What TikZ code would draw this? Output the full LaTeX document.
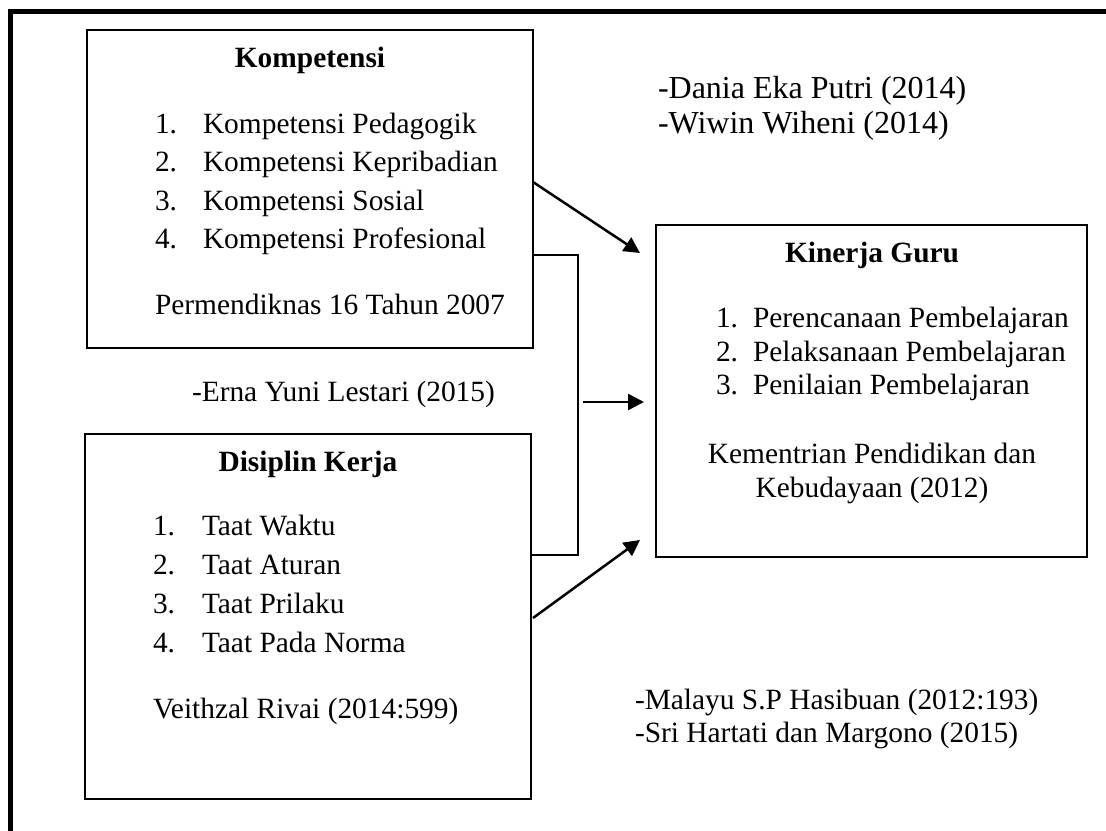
\documentclass[tikz,border=0pt]{standalone}
\usepackage{fontspec}
\setmainfont{Liberation Serif}
\usetikzlibrary{arrows.meta,calc}

\begin{document}
\begin{tikzpicture}[x=0.5pt,y=-0.5pt,inner sep=0pt,outer sep=0pt,
box/.style={draw,rectangle,line width=0.75pt},
txt/.style={anchor=base west,font=\fontsize{14.7}{17}\selectfont},
bigtxt/.style={anchor=base west,font=\fontsize{16}{19}\selectfont},
ttl/.style={anchor=base,font=\fontsize{14.7}{17}\selectfont\bfseries},
arr/.style={-{Triangle[length=8pt,width=8pt]},line width=1.25pt}]

\useasboundingbox (0,0) rectangle (1106,830);
\clip (0,0) rectangle (1106,830);
\draw[line width=2.5pt] (10,11) rectangle (1140,860);

\draw (310,189) node[box,minimum width=223pt,minimum height=159pt] (komp) {};
\draw (308,616.5) node[box,minimum width=223pt,minimum height=182.5pt] (disp) {};
\draw (871.5,391) node[box,minimum width=215.5pt,minimum height=166pt] (kin) {};

% Kompetensi
\draw (310,67) node[ttl] (kompT) {Kompetensi};
\draw (155,133) node[txt] (k1n) {1.};
\draw (203,133) node[txt] (k1) {Kompetensi Pedagogik};
\draw (155,171.5) node[txt] (k2n) {2.};
\draw (203,171.5) node[txt] (k2) {Kompetensi Kepribadian};
\draw (155,210) node[txt] (k3n) {3.};
\draw (203,210) node[txt] (k3) {Kompetensi Sosial};
\draw (155,248.5) node[txt] (k4n) {4.};
\draw (203,248.5) node[txt] (k4) {Kompetensi Profesional};
\draw (155,314) node[txt] (kSrc) {Permendiknas 16 Tahun 2007};

% Disiplin Kerja
\draw (308,471) node[ttl] (dispT) {Disiplin Kerja};
\draw (153,535) node[txt] (d1n) {1.};
\draw (202,535) node[txt] (d1) {Taat Waktu};
\draw (153,574) node[txt] (d2n) {2.};
\draw (202,574) node[txt] (d2) {Taat Aturan};
\draw (153,613) node[txt] (d3n) {3.};
\draw (202,613) node[txt] (d3) {Taat Prilaku};
\draw (153,652) node[txt] (d4n) {4.};
\draw (202,652) node[txt] (d4) {Taat Pada Norma};
\draw (153,718) node[txt] (dSrc) {Veithzal Rivai (2014:599)};

% Kinerja Guru
\draw (872,262) node[ttl] (kinT) {Kinerja Guru};
\draw (716,327) node[txt] (g1n) {1.};
\draw (753,327) node[txt] (g1) {Perencanaan Pembelajaran};
\draw (716,361) node[txt] (g2n) {2.};
\draw (753,361) node[txt] (g2) {Pelaksanaan Pembelajaran};
\draw (716,394) node[txt] (g3n) {3.};
\draw (753,394) node[txt] (g3) {Penilaian Pembelajaran};
\draw (872,463) node[txt,anchor=base] (gSrc1) {Kementrian Pendidikan dan};
\draw (872,497) node[txt,anchor=base] (gSrc2) {Kebudayaan (2012)};

% sumber
\draw (658,98) node[bigtxt] (ref1) {-Dania Eka Putri (2014)};
\draw (658,133) node[bigtxt] (ref2) {-Wiwin Wiheni (2014)};
\draw (192,401) node[txt] (ref3) {-Erna Yuni Lestari (2015)};
\draw (635,709) node[txt] (ref4) {-Malayu S.P Hasibuan (2012:193)};
\draw (635,742) node[txt] (ref5) {-Sri Hartati dan Margono (2015)};

\coordinate (tipA) at (640,253);
\coordinate (tipB) at (644,402);
\coordinate (tipC) at (640,540);
\coordinate (brk) at (578,402);

\draw[arr] ($(komp.north east)+(0,152)$) -- (tipA);
\draw[line width=0.75pt] ($(komp.north east)+(0,225)$) -| (brk) |- ($(disp.north east)+(0,121)$);
\draw[arr] ($(brk)+(5,0)$) -- (tipB);
\draw[arr] ($(disp.north east)+(2,184)$) -- (tipC);
\end{tikzpicture}
\end{document}
